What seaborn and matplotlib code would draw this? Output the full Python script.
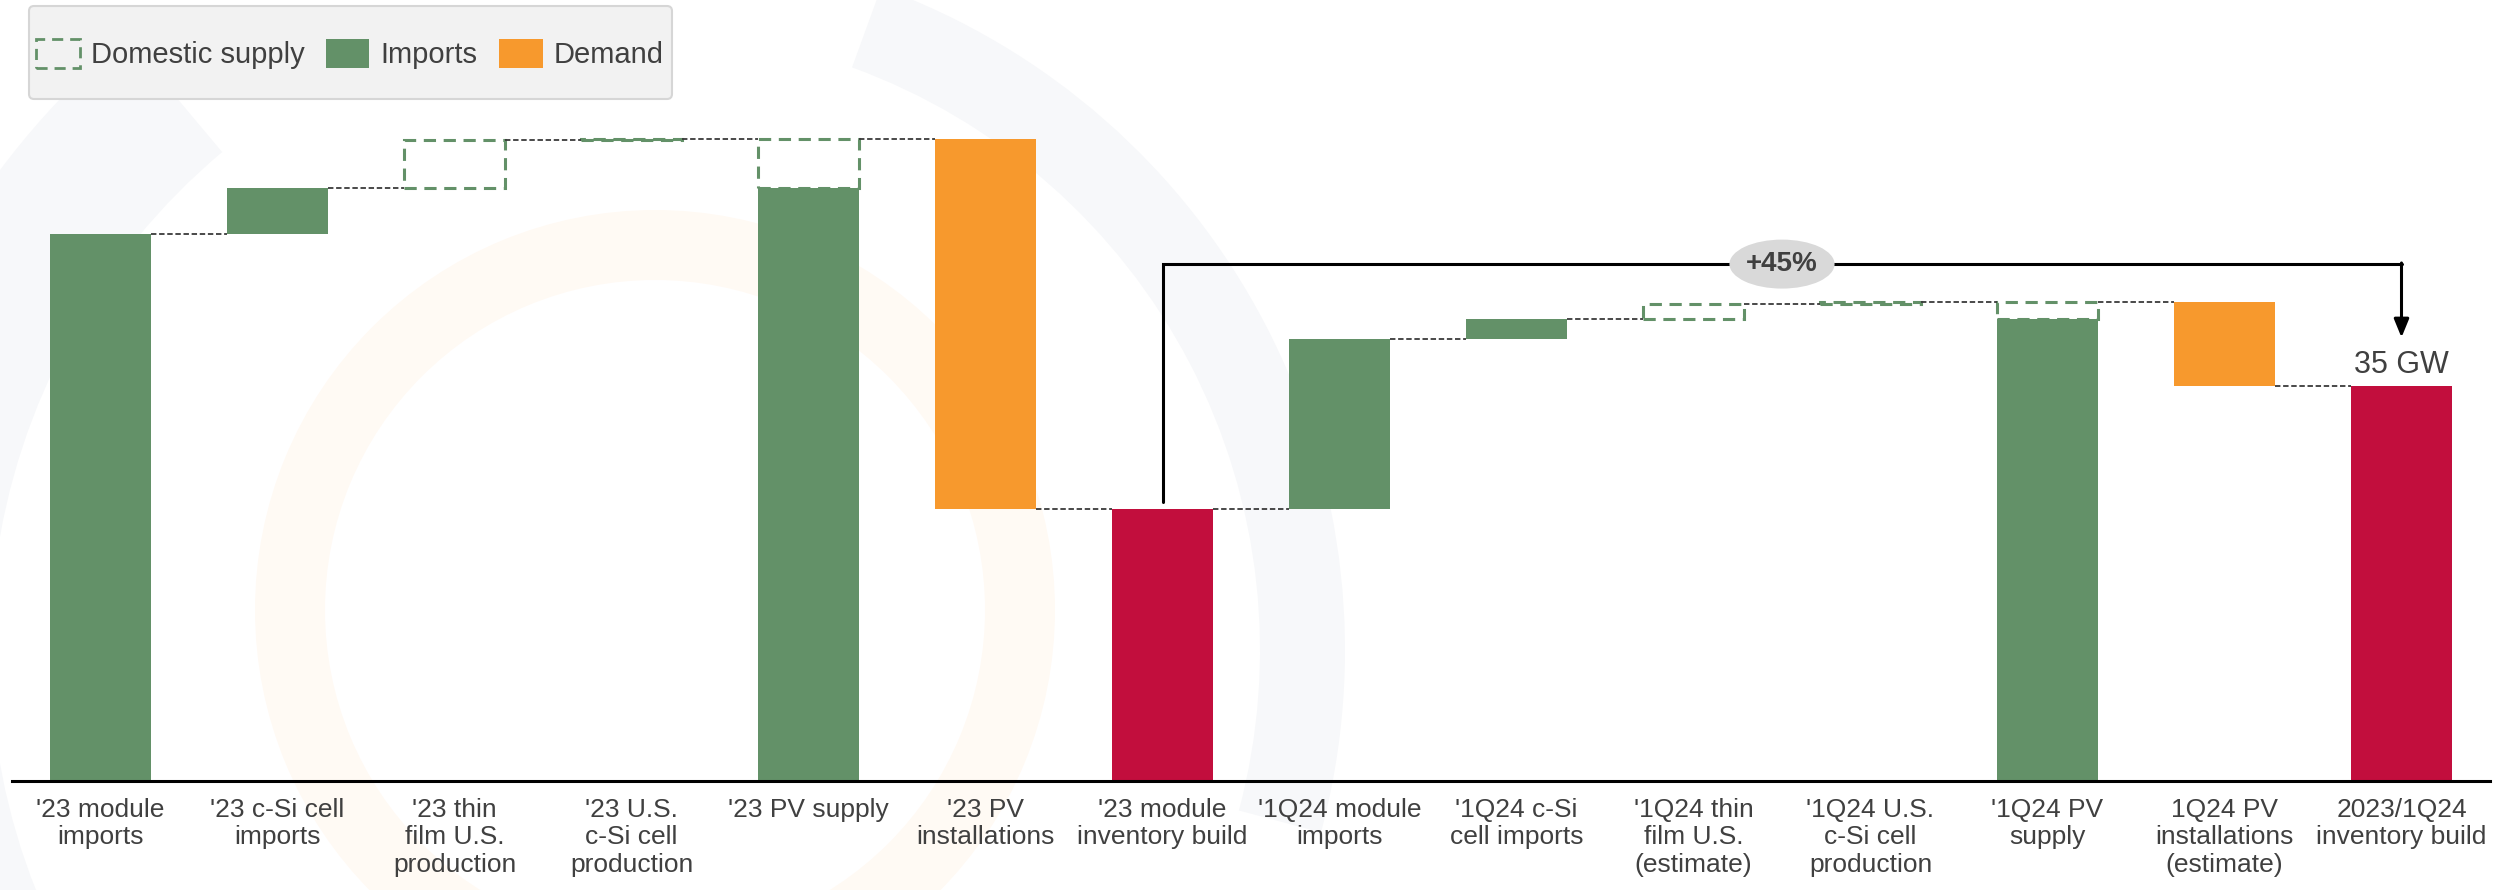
import matplotlib
matplotlib.use('Agg')
import matplotlib.pyplot as plt
import numpy as np
import pandas as pd
import seaborn as sns
from matplotlib.patches import Patch, Ellipse, Wedge, FancyBboxPatch

# chart data (GW)
labels = ["'23 module\nimports", "'23 c-Si cell\nimports", "'23 thin\nfilm U.S.\nproduction",
          "'23 U.S.\nc-Si cell\nproduction", "'23 PV supply", "'23 PV\ninstallations",
          "'23 module\ninventory build", "'1Q24 module\nimports", "'1Q24 c-Si\ncell imports",
          "'1Q24 thin\nfilm U.S.\n(estimate)", "'1Q24 U.S.\nc-Si cell\nproduction",
          "'1Q24 PV\nsupply", "1Q24 PV\ninstallations\n(estimate)", "2023/1Q24\ninventory build"]
kinds = ['import', 'import', 'domestic', 'domestic', 'supply', 'demand', 'total',
         'import', 'import', 'domestic', 'domestic', 'supply', 'demand', 'total']
deltas = [48.5, 4.0, 4.3, 0.1, 0, -32.8, 0, 15.1, 1.7, 1.4, 0.1, 0, -7.4, 0]
legend_labels = ['Domestic supply', 'Imports', 'Demand']
total_label = "35 GW"
growth_label = "+45%"

GREEN = '#639168'
ORANGE = '#f7992d'
RED = '#c20e3d'
TEXT = '#404040'


def waterfall(kinds, deltas):
    solid_bot, solid_h, dash_bot, dash_h, level = [], [], [], [], []
    run = 0.0
    imp = 0.0
    for k, d in zip(kinds, deltas):
        if k == 'import':
            solid_bot.append(run); solid_h.append(d)
            dash_bot.append(0); dash_h.append(0)
            run += d; imp += d
        elif k == 'domestic':
            solid_bot.append(0); solid_h.append(0)
            dash_bot.append(run); dash_h.append(d)
            run += d
        elif k == 'supply':
            solid_bot.append(0); solid_h.append(imp)
            dash_bot.append(imp); dash_h.append(run - imp)
        elif k == 'demand':
            solid_bot.append(run + d); solid_h.append(-d)
            dash_bot.append(0); dash_h.append(0)
            run += d
        else:
            solid_bot.append(0); solid_h.append(run)
            dash_bot.append(0); dash_h.append(0)
            imp = run
        level.append(run)
    return solid_bot, solid_h, dash_bot, dash_h, level


solid_bot, solid_h, dash_bot, dash_h, level = waterfall(kinds, deltas)
df = pd.DataFrame({'label': labels, 'solid': solid_h, 'dash': dash_h})

sns.set_style('white')
plt.rcParams['font.family'] = ['Liberation Sans', 'DejaVu Sans']

fig = plt.figure(figsize=(24.99, 8.90), dpi=100)
ax = fig.add_axes([12 / 2499, 1 - 781 / 890, 2478 / 2499, 781 / 890])
ax.set_facecolor('none')

# faint logo watermark behind everything (pixel coords, origin top-left)
px = fig.dpi_scale_trans


def wm(cx, cy, r, w, a0, a1, color):
    fig.patches.append(Wedge((cx / 100, (890 - cy) / 100), r / 100, a0, a1, width=w / 100,
                             transform=px, facecolor=color, edgecolor='none', zorder=-5))


wm(655, 610, 400, 70, 0, 360, '#fffaf4')
wm(640, 650, 705, 85, -15, 70, '#f7f8fa')
wm(640, 650, 800, 150, 130, 215, '#f7f8fa')

width = 0.57
sns.barplot(data=df, x='label', y='solid', order=labels, bottom=solid_bot, width=width,
            color=GREEN, errorbar=None, ax=ax)
colors = {'import': GREEN, 'supply': GREEN, 'demand': ORANGE, 'total': RED, 'domestic': GREEN}
for p, k in zip(ax.patches[:len(labels)], kinds):
    p.set_facecolor(colors[k])
    p.set_edgecolor('none')
    if k == 'domestic':
        p.set_visible(False)

sns.barplot(data=df, x='label', y='dash', order=labels, bottom=dash_bot, width=width,
            color=GREEN, errorbar=None, ax=ax)
for p, h in zip(ax.patches[len(labels):], dash_h):
    p.set_facecolor('none')
    p.set_edgecolor(GREEN)
    p.set_linestyle((0, (4, 2.5)))
    p.set_linewidth(2.2)
    if h == 0:
        p.set_visible(False)

# connector lines
for i in range(len(labels) - 1):
    ax.plot([i + width / 2, i + 1 - width / 2], [level[i], level[i]], color='#3a3a3a',
            lw=1.3, ls=(0, (3, 1.5)), zorder=1)

ax.set_xlim(-0.5, len(labels) - 0.5)
ax.set_ylim(0, 69.2)
ax.set_xlabel('')
ax.set_ylabel('')
ax.set_yticks([])
ax.tick_params(axis='x', length=0, pad=12, labelsize=19, labelcolor=TEXT)
for s in ['top', 'right', 'left']:
    ax.spines[s].set_visible(False)
ax.spines['bottom'].set_color('black')
ax.spines['bottom'].set_linewidth(2.2)

# growth bracket
i0 = kinds.index('total')
i1 = len(kinds) - 1
y_br = 45.8
ax.plot([i0, i0, i1, i1], [level[i0] + 0.6, y_br, y_br, y_br], color='black', lw=2.2,
        solid_joinstyle='miter', zorder=4)
ax.annotate('', xy=(i1, level[i1] + 4.3), xytext=(i1, y_br + 0.1),
            arrowprops=dict(arrowstyle='-|>,head_width=0.45,head_length=1.1', color='black',
                            lw=2.2, shrinkA=0, shrinkB=0), zorder=4)
xm = (i0 + i1) / 2
ax.add_patch(Ellipse((xm, y_br), 0.594, 4.34, facecolor='#d9d9d9', edgecolor='none', zorder=5))
ax.text(xm, y_br, growth_label, ha='center', va='center', fontsize=20, fontweight='bold',
        color=TEXT, zorder=6)
ax.text(i1, level[i1] + 0.55, total_label, ha='center', va='bottom', fontsize=22, color=TEXT)

# legend with a wide, short grey box
fig.patches.append(FancyBboxPatch((29 / 100, (890 - 99) / 100), 643 / 100, 93 / 100,
                                  boxstyle='round,pad=0,rounding_size=0.05', transform=px,
                                  facecolor='#f2f2f2', edgecolor='#d6d6d6', linewidth=1.5,
                                  zorder=3))
handles = [Patch(facecolor='none', edgecolor=GREEN, linestyle=(0, (4, 2.5)), linewidth=2),
           Patch(facecolor=GREEN, edgecolor='none'),
           Patch(facecolor=ORANGE, edgecolor='none')]
leg = fig.legend(handles, legend_labels, loc='center',
                 bbox_to_anchor=(350 / 2499, 1 - 54 / 890), ncol=3, fontsize=21,
                 frameon=False, borderpad=0, handlelength=1.48, handleheight=1.15,
                 handletextpad=0.38, columnspacing=0.75, labelcolor=TEXT)
leg.set_zorder(4)

fig.savefig('out.png', dpi=100)
